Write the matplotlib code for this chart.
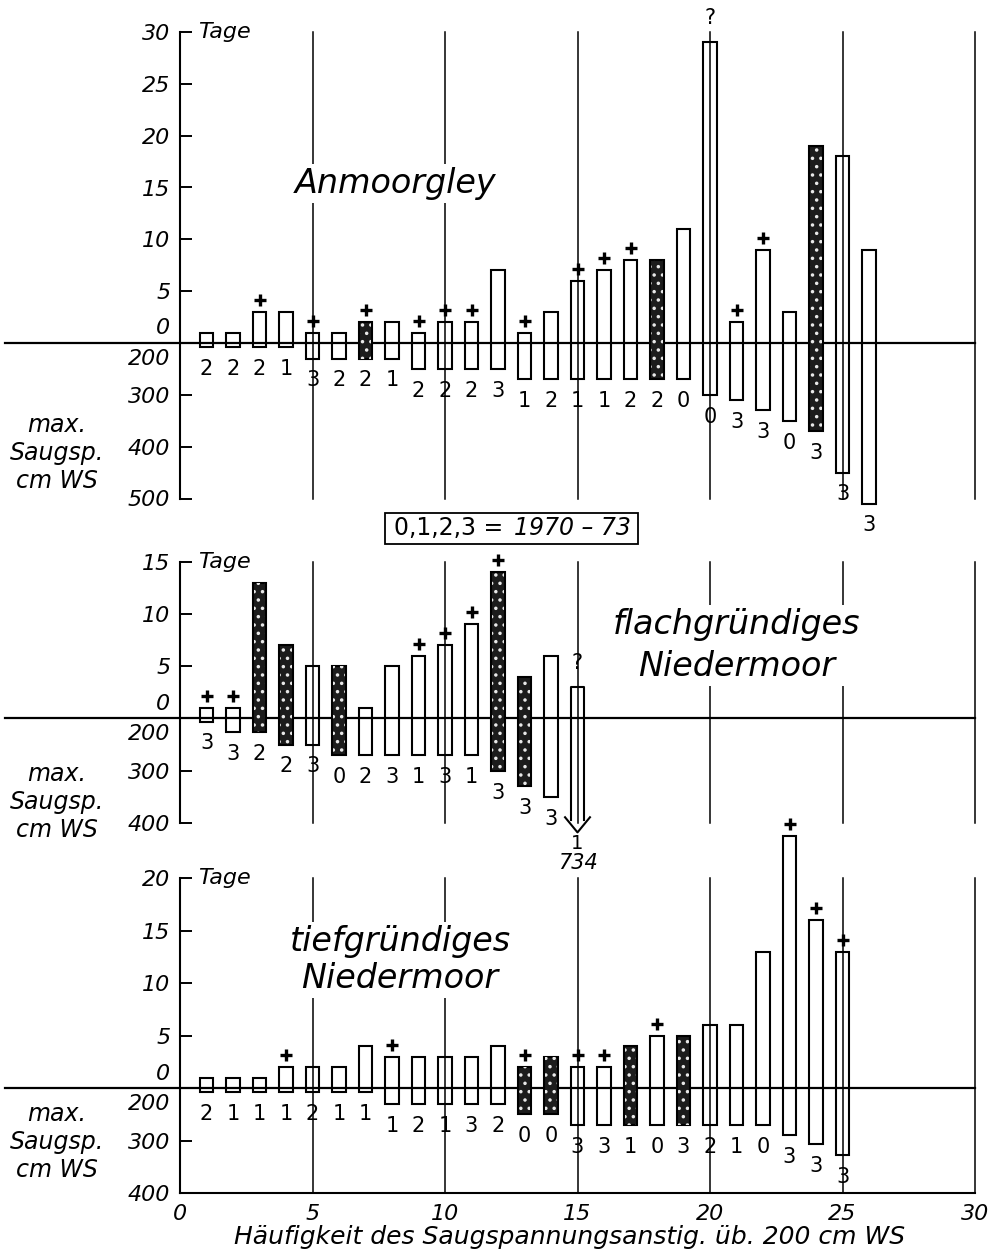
import matplotlib
matplotlib.use('Agg')
import matplotlib.pyplot as plt
import numpy as np
from matplotlib.transforms import ScaledTranslation
from matplotlib.patches import Rectangle

plt.rcParams['font.family'] = ['DejaVu Sans']
plt.rcParams['hatch.linewidth'] = 1.3

# ---------------- data ----------------
# Panel 1: Anmoorgley
tage1 = [1, 1, 3, 3, 1, 1, 2, 2, 1, 2, 2, 7, 1, 3, 6, 7, 8, 8, 11, 29, 2, 9, 3, 19, 18, 9]
cm1 = [208, 208, 208, 208, 230, 230, 230, 230, 250, 250, 250, 250, 270, 270, 270, 270,
       270, 270, 270, 300, 310, 330, 350, 370, 450, 510]
year1 = [2, 2, 2, 1, 3, 2, 2, 1, 2, 2, 2, 3, 1, 2, 1, 1, 2, 2, 0, 0, 3, 3, 0, 3, 3, 3]
plus1 = [3, 5, 7, 9, 10, 11, 13, 15, 16, 17, 21, 22]
filled1 = [7, 18, 24]
quest1 = [20]

# Panel 2: flachgruendiges Niedermoor
tage2 = [1, 1, 13, 7, 5, 5, 1, 5, 6, 7, 9, 14, 4, 6, 3]
cm2 = [206, 226, 226, 250, 250, 270, 270, 270, 270, 270, 270, 300, 330, 350, 734]
year2 = [3, 3, 2, 2, 3, 0, 2, 3, 1, 3, 1, 3, 3, 3, 1]
plus2 = [1, 2, 9, 10, 11, 12]
filled2 = [3, 4, 6, 12, 13]
quest2 = [15]

# Panel 3: tiefgruendiges Niedermoor
tage3 = [1, 1, 1, 2, 2, 2, 4, 3, 3, 3, 3, 4, 2, 3, 2, 2, 4, 5, 5, 6, 6, 13, 24, 16, 13]
cm3 = [208, 208, 208, 208, 208, 208, 208, 230, 230, 230, 230, 230, 250, 250, 270, 270,
       270, 270, 270, 270, 270, 270, 290, 307, 327]
year3 = [2, 1, 1, 1, 2, 1, 1, 1, 2, 1, 3, 2, 0, 0, 3, 3, 1, 0, 3, 2, 1, 0, 3, 3, 3]
plus3 = [4, 8, 13, 15, 16, 18, 23, 24, 25]
filled3 = [13, 14, 17, 19]
quest3 = []

xticks = [0, 5, 10, 15, 20, 25, 30]
tage_ticks1 = [5, 10, 15, 20, 25, 30]
cm_ticks1 = [300, 400, 500]
tage_ticks2 = [5, 10, 15]
cm_ticks2 = [300, 400]
tage_ticks3 = [5, 10, 15, 20]
cm_ticks3 = [300, 400]

# ---------------- figure ----------------
W, H = 1001, 1257
fig = plt.figure(figsize=(W / 100, H / 100), dpi=100)

X0, X1 = 180, 975      # pixel position of x=0 and x=30
BW = 0.52
LW = 1.5


def depth(cm):
    # 100 cm WS drawn as 5 Tage units, 200 cm on the baseline
    return -(np.asarray(cm, float) - 200.0) / 20.0


def make_axes(top_px, bottom_px):
    return fig.add_axes([X0 / W, 1 - bottom_px / H, (X1 - X0) / W, (bottom_px - top_px) / H])


def setup(ax, tage_ticks, cm_ticks, xaxis=False):
    ymax = max(tage_ticks)
    ymin = float(depth(max(cm_ticks)))
    ax.set_xlim(0, 30)
    ax.set_ylim(ymin, ymax)
    for s in ['top', 'right']:
        ax.spines[s].set_visible(False)
    ax.spines['bottom'].set_visible(xaxis)
    ax.spines['left'].set_linewidth(LW)
    ax.spines['bottom'].set_linewidth(LW)
    ticks = list(tage_ticks) + list(depth(cm_ticks))
    labels = [str(t) for t in tage_ticks] + [str(c) for c in cm_ticks]
    ax.set_yticks(ticks)
    ax.set_yticklabels(labels, fontsize=16, style='italic')
    ax.tick_params(axis='y', direction='in', length=8.6, width=1.4, pad=7)
    if xaxis:
        ax.set_xticks(xticks)
        ax.set_xticklabels([str(v) for v in xticks], fontsize=16, style='italic')
        ax.tick_params(axis='x', length=0, pad=8)
    else:
        ax.set_xticks([])
    for v in xticks[1:]:
        ax.axvline(v, color='black', lw=1.1, zorder=1, clip_on=False)
    ax.axhline(0, xmin=-0.22, xmax=1.0, color='black', lw=1.6, clip_on=False, zorder=2)
    ax.annotate('0', xy=(0, 0), xycoords=('axes fraction', 'data'), xytext=(-7, 10.5),
                textcoords='offset points', ha='right', va='center', fontsize=16, style='italic')
    ax.annotate('200', xy=(0, 0), xycoords=('axes fraction', 'data'), xytext=(-7, -11.5),
                textcoords='offset points', ha='right', va='center', fontsize=16, style='italic')
    ax.annotate('Tage', xy=(0, ymax), xycoords=('axes fraction', 'data'), xytext=(13, 0),
                textcoords='offset points', ha='left', va='center', fontsize=16, style='italic')
    ax.patch.set_alpha(0)


def draw_bars(ax, tage, cm, years, plus, filled, quest, ymin):
    n = len(tage)
    x = np.arange(1, n + 1)
    top = np.array(tage, float)
    bot = depth(cm)
    fill = np.isin(x, filled)
    off = bot < ymin - 1.0
    normal = ~off
    o = normal & ~fill
    ax.bar(x[o], (top - bot)[o], bottom=bot[o], width=BW, facecolor='none',
           edgecolor='black', lw=LW, zorder=3, clip_on=False)
    f = normal & fill
    ax.bar(x[f], (top - bot)[f], bottom=bot[f], width=BW, facecolor='#1c1c1c',
           edgecolor='black', lw=LW, zorder=3, clip_on=False)
    ax.bar(x[f], (top - bot)[f], bottom=bot[f], width=BW * 0.8, facecolor='none',
           edgecolor='#e8e8e8', hatch='..', lw=0, zorder=3.5, clip_on=False)
    for xi, b, yr in zip(x[normal], bot[normal], np.array(years)[normal]):
        ax.annotate(str(yr), xy=(xi, b), xytext=(0, -8.5), textcoords='offset points',
                    ha='center', va='top', fontsize=15, annotation_clip=False)
    # off-scale bars: open sides ending in an arrow below the axis end
    for xi, t, c, yr in zip(x[off], top[off], np.array(cm)[off], np.array(years)[off]):
        tip = ymin - 0.9
        hw = BW / 2
        ax.plot([xi - hw, xi - hw, xi + hw, xi + hw], [tip + 1.2, t, t, tip + 1.2],
                color='black', lw=LW, zorder=3, clip_on=False)
        ax.plot([xi - 0.47, xi, xi + 0.47], [tip + 1.45, tip, tip + 1.45],
                color='black', lw=LW, zorder=3, clip_on=False)
        ax.annotate(str(yr), xy=(xi, tip), xytext=(0, -1.5), textcoords='offset points',
                    ha='center', va='top', fontsize=14, annotation_clip=False)
        ax.annotate(str(c), xy=(xi, tip), xytext=(0, -15), textcoords='offset points',
                    ha='center', va='top', fontsize=15, style='italic', annotation_clip=False)
    pm = np.isin(x, plus)
    tr = ax.transData + ScaledTranslation(0, 12 / 100, fig.dpi_scale_trans)
    ax.plot(x[pm], top[pm], linestyle='none', marker='+', ms=9, mew=2.4, color='black',
            transform=tr, clip_on=False, zorder=4)
    for q in quest:
        ax.annotate('?', xy=(q, top[q - 1]), xytext=(0, 17.5), textcoords='offset points',
                    ha='center', va='center', fontsize=15, annotation_clip=False)


WHITE = dict(facecolor='white', edgecolor='none', pad=2)

# ---- panel 1 ----
ax1 = make_axes(32, 498.5)
setup(ax1, tage_ticks1, cm_ticks1)
draw_bars(ax1, tage1, cm1, year1, plus1, filled1, quest1, float(depth(max(cm_ticks1))))
ax1.text(4.35, 15.4, 'Anmoorgley', fontsize=24, style='italic', ha='left', va='center',
         bbox=WHITE, zorder=2.5)

# ---- panel 2 ----
ax2 = make_axes(561.7, 823)
setup(ax2, tage_ticks2, cm_ticks2)
draw_bars(ax2, tage2, cm2, year2, plus2, filled2, quest2, float(depth(max(cm_ticks2))))
ax2.text(21.0, 7.0, 'flachgründiges\nNiedermoor', fontsize=24, style='italic', ha='center',
         va='center', multialignment='center', linespacing=1.35, bbox=WHITE, zorder=2.5)

# ---- panel 3 ----
ax3 = make_axes(878, 1193.3)
setup(ax3, tage_ticks3, cm_ticks3, xaxis=True)
draw_bars(ax3, tage3, cm3, year3, plus3, filled3, quest3, float(depth(max(cm_ticks3))))
ax3.text(8.3, 12.2, 'tiefgründiges\nNiedermoor', fontsize=24, style='italic', ha='center',
         va='center', multialignment='center', linespacing=1.15, bbox=WHITE, zorder=2.5)

# ---- left labels ----
for yc in [453, 802, 1142]:
    fig.text(57 / W, 1 - yc / H, 'max.\nSaugsp.\ncm WS', fontsize=17, style='italic',
             ha='center', va='center', multialignment='center', linespacing=1.2)

# ---- legend box ----
fig.patches.append(Rectangle((385 / W, 1 - 544 / H), (638 - 385) / W, (544 - 513) / H,
                             transform=fig.transFigure, facecolor='white', edgecolor='black',
                             lw=1.3))
fig.text(394 / W, 1 - 528 / H, '0,1,2,3 =', fontsize=17, ha='left', va='center')
fig.text(631 / W, 1 - 528 / H, '1970 – 73', fontsize=17, style='italic', ha='right', va='center')

# ---- x label ----
fig.text(570 / W, 1 - 1244 / H, 'Häufigkeit des Saugspannungsanstig. üb. 200 cm WS',
         fontsize=18, style='italic', ha='center', va='baseline')

fig.savefig('out.png', dpi=100, facecolor='white')
